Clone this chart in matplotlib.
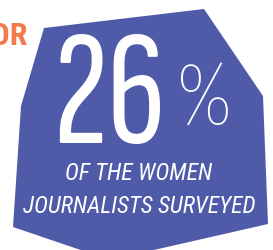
import matplotlib
matplotlib.use('Agg')
import matplotlib.pyplot as plt
from matplotlib.patches import Polygon

blue = '#4F5BA9'
orange = '#F47A4C'

# shape outline, pixel coordinates of the picture
shape_x = [44, 204, 263, 268, 110, 13, 21]
shape_y = [29, 10, 97, 225, 261, 228, 107]

big_value = '26'
value_unit = '%'
caption = ['OF THE WOMEN', 'JOURNALISTS SURVEYED']
side_word = 'FOR'

fig = plt.figure(figsize=(2.73, 2.51), dpi=100)
ax = fig.add_axes([0, 0, 1, 1])
ax.set_xlim(0, 273)
ax.set_ylim(251, 0)
ax.axis('off')

ax.add_patch(Polygon(list(zip(shape_x, shape_y)), closed=True,
                     facecolor=blue, edgecolor='none'))

num_font = ['Sofia Sans Extra Condensed', 'Fira Sans Extra Condensed', 'DejaVu Sans']
big_font = ['Fira Sans Extra Condensed', 'DejaVu Sans']
cap_font = ['Roboto Condensed', 'DejaVu Sans']

ax.text(109, 143, big_value, color='white', fontsize=118, family=num_font,
        weight='light', ha='center', va='baseline')
ax.text(204, 125, value_unit, color='white', fontsize=64, family=big_font,
        weight='light', ha='center', va='baseline')
ax.text(139, 180, caption[0], color='white', fontsize=17, family=cap_font,
        style='italic', weight='normal', ha='center', va='baseline')
ax.text(139, 213, caption[1], color='white', fontsize=17, family=cap_font,
        style='italic', weight='normal', ha='center', va='baseline')
ax.text(28, 45, side_word, color=orange, fontsize=23, family=cap_font,
        weight='bold', ha='right', va='baseline')

fig.savefig('out.png', dpi=100)
